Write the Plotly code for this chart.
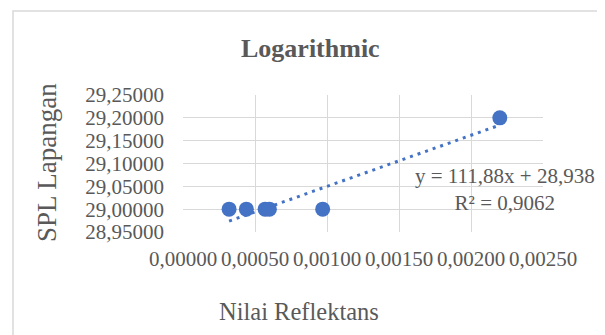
import plotly.graph_objects as go

# Data
x_vals = [0.00032, 0.00044, 0.00057, 0.00060, 0.00097, 0.00220]
y_vals = [29.0, 29.0, 29.0, 29.0, 29.0, 29.2]
slope = 111.88
intercept = 28.938
r2 = 0.9062
x_ticks = [0, 0.0005, 0.001, 0.0015, 0.002, 0.0025]
y_ticks = [28.95, 29.0, 29.05, 29.1, 29.15, 29.2, 29.25]

W, H = 605, 335
OFF = 8  # page body margin
PW, PH = 360, 137
L, T = 183 - OFF, 95 - OFF
R, B = W - L - PW, H - T - PH
FONT = "Liberation Serif, Times New Roman, serif"
GREY = "#595959"
BLUE = "#4472C4"

tx = [min(x_vals), max(x_vals)]
ty = [slope * v + intercept for v in tx]

fig = go.Figure()
fig.add_trace(go.Scatter(x=tx, y=ty, mode="lines",
                         line=dict(color=BLUE, width=3, dash="3px,5px"),
                         hoverinfo="skip", showlegend=False))
fig.add_trace(go.Scatter(x=x_vals, y=y_vals, mode="markers",
                         marker=dict(color=BLUE, size=15), showlegend=False))

def px_x(p):
    return (p - OFF - L) / PW

def px_y(p):
    return 1 - (p - OFF - T) / PH

fig.update_layout(
    width=W, height=H,
    margin=dict(l=L, r=R, t=T, b=B),
    paper_bgcolor="white", plot_bgcolor="white",
    separators=",.",
    font=dict(family=FONT, color=GREY, size=20),
    xaxis=dict(range=[0, 0.0025], tickvals=x_ticks, tickformat=".5f",
               showgrid=True, gridcolor="#d9d9d9", gridwidth=1,
               zeroline=False, showline=False, ticks="",
               ticklabelstandoff=12, tickfont=dict(size=21, color=GREY)),
    yaxis=dict(range=[28.95, 29.25], tickvals=y_ticks, tickformat=".5f",
               showgrid=True, gridcolor="#d9d9d9", gridwidth=1,
               zeroline=False, showline=False, ticks="",
               ticklabelstandoff=18, tickfont=dict(size=21, color=GREY)),
    shapes=[dict(type="rect", xref="paper", yref="paper",
                 x0=px_x(13), x1=px_x(W + 20), y0=px_y(H + 20), y1=px_y(11),
                 line=dict(color="#d9d9d9", width=1.5), layer="below")],
    annotations=[
        dict(text="<b>Logarithmic</b>", xref="paper", yref="paper",
             x=px_x(310), y=px_y(49), showarrow=False,
             xanchor="center", yanchor="middle",
             font=dict(size=26, color=GREY, family=FONT)),
        dict(text="SPL Lapangan", xref="paper", yref="paper", textangle=-90,
             x=px_x(47), y=px_y(163), showarrow=False,
             xanchor="center", yanchor="middle",
             font=dict(size=27, color=GREY, family=FONT)),
        dict(text="Nilai Reflektans", xref="paper", yref="paper",
             x=px_x(299), y=px_y(311), showarrow=False,
             xanchor="center", yanchor="middle",
             font=dict(size=24.5, color=GREY, family=FONT)),
        dict(text="y = 111,88x + 28,938<br>R² = " + f"{r2:.4f}".replace(".", ","),
             xref="paper", yref="paper", align="center",
             x=px_x(505), y=px_y(189), showarrow=False,
             xanchor="center", yanchor="middle",
             font=dict(size=21, color=GREY, family=FONT)),
    ],
)
fig.write_html("out.html")
